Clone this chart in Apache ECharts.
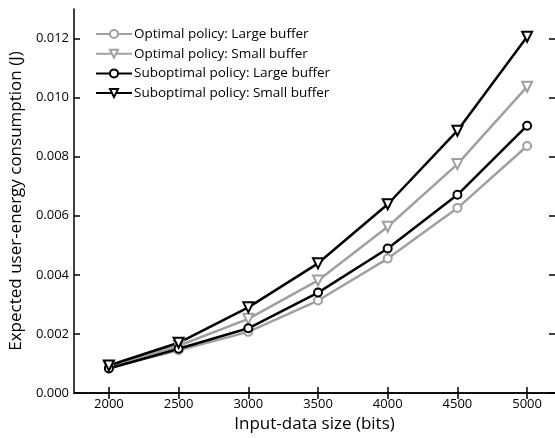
<!DOCTYPE html>
<html><head><meta charset="utf-8">
<script src="https://cdn.jsdelivr.net/npm/echarts@6/dist/echarts.min.js"></script>
<style>html,body{margin:0;padding:0;background:#fff}#c{width:555px;height:438px}</style>
</head><body><div id="c"></div>
<script>
const xValues = [2000, 2500, 3000, 3500, 4000, 4500, 5000];
const xTicks = [2000, 2500, 3000, 3500, 4000, 4500, 5000];
const yTicks = [0, 0.002, 0.004, 0.006, 0.008, 0.010, 0.012];
const seriesNames = ['Optimal policy: Large buffer', 'Optimal policy: Small buffer', 'Suboptimal policy: Large buffer', 'Suboptimal policy: Small buffer'];
const optLarge = [0.00085, 0.00145, 0.00207, 0.00313, 0.00455, 0.00626, 0.00836];
const optSmall = [0.00090, 0.00160, 0.00251, 0.00381, 0.00563, 0.00775, 0.01037];
const subLarge = [0.00083, 0.00150, 0.00219, 0.00340, 0.00489, 0.00671, 0.00905];
const subSmall = [0.00093, 0.00170, 0.00290, 0.00439, 0.00639, 0.00888, 0.01206];

const font = 'Open Sans';
const gray = '#a0a0a0', black = '#000';
const tri = 'path://M0,0 L10,0 L5,9 Z';
function mk(name, data, color, symbol, size) {
  return {
    name, type: 'line', data: xValues.map((x, i) => [x, data[i]]),
    symbol, symbolSize: size, showSymbol: true,
    lineStyle: { color, width: 2.5 },
    itemStyle: { color: '#fff', borderColor: color, borderWidth: 2 },
    emphasis: { disabled: true }, animation: false, z: 3
  };
}
const chart = echarts.init(document.getElementById('c'), null, { renderer: 'canvas' });
const axTick = { show: true, inside: true, length: 6, lineStyle: { color: '#000', width: 1.5 } };
chart.setOption({
  animation: false,
  textStyle: { fontFamily: font },
  grid: { left: 72, top: 9, width: 484, height: 393, containLabel: false },
  legend: {
    orient: 'vertical', left: 90, top: 22, itemWidth: 36, itemHeight: 10, itemGap: 5.7,
    textStyle: { fontFamily: font, fontSize: 13.5, lineHeight: 14, color: '#000', padding: [0, 0, 0, -3] },
    data: seriesNames
  },
  xAxis: [{
    type: 'value', min: 1750, max: 5200, position: 'bottom',
    name: 'Input-data size (bits)', nameLocation: 'middle', nameGap: 23,
    nameTextStyle: { fontFamily: font, fontSize: 17, color: '#000' },
    axisLine: { lineStyle: { color: '#000', width: 1.5 } },
    axisTick: Object.assign({ customValues: xTicks }, axTick),
    axisLabel: { customValues: xTicks, color: '#000', fontSize: 13, fontFamily: font, margin: 5, formatter: v => String(v) },
    splitLine: { show: false }
  }, {
    type: 'value', min: 1750, max: 5200, position: 'top',
    axisLine: { lineStyle: { color: '#000', width: 1.5 } },
    axisTick: Object.assign({ customValues: xTicks }, axTick),
    axisLabel: { show: false }, splitLine: { show: false }
  }],
  yAxis: [{
    type: 'value', min: 0, max: 0.013, position: 'left',
    name: 'Expected user-energy consumption (J)', nameLocation: 'middle', nameGap: 48,
    nameTextStyle: { fontFamily: font, fontSize: 17, color: '#000' },
    axisLine: { show: true, lineStyle: { color: '#000', width: 1.5 } },
    axisTick: Object.assign({ customValues: yTicks }, axTick),
    axisLabel: { customValues: yTicks, color: '#000', fontSize: 13, fontFamily: font, margin: 5, formatter: v => v.toFixed(3) },
    splitLine: { show: false }
  }, {
    type: 'value', min: 0, max: 0.013, position: 'right',
    axisLine: { show: false },
    axisTick: Object.assign({ customValues: yTicks }, axTick),
    axisLabel: { show: false }, splitLine: { show: false }
  }],
  series: [
    mk(seriesNames[0], optLarge, gray, 'circle', 8),
    mk(seriesNames[1], optSmall, gray, tri, 10),
    mk(seriesNames[2], subLarge, black, 'circle', 8),
    mk(seriesNames[3], subSmall, black, tri, 10)
  ]
});
</script></body></html>
